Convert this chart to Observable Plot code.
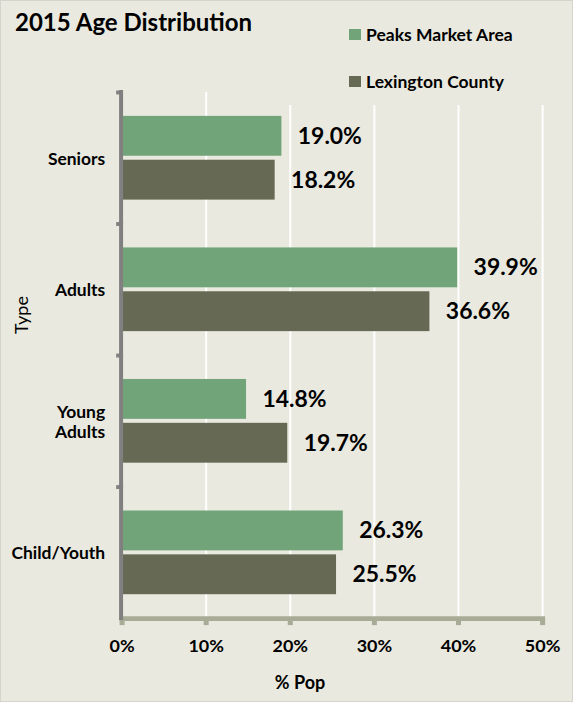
<!DOCTYPE html>
<html>
<head>
<meta charset="utf-8">
<script src="https://cdn.jsdelivr.net/npm/d3@7"></script>
<script src="https://cdn.jsdelivr.net/npm/@observablehq/plot@0.6"></script>
<style>
  html, body { margin: 0; padding: 0; background: #e9e9df; }
  #wrap { position: relative; width: 573px; height: 702px; background: #e9e9df; box-sizing: border-box; border: 1px solid #d4d4cc; overflow: hidden; font-family: Lato, "Open Sans", sans-serif; }
  #title { position: absolute; left: 14px; top: 6px; font-size: 24px; font-weight: bold; color: #000; white-space: nowrap; }
  #legend { position: absolute; left: 262px; top: 18px; width: 300px; height: 86px; background: #e9e9df; z-index: 2; }
  .item { position: absolute; left: 86px; display: flex; align-items: center; font-size: 17.5px; font-weight: bold; white-space: nowrap; }
  .sw { width: 12px; height: 11px; margin-right: 5px; display: inline-block; }
  #chart { position: absolute; left: 0; top: 84px; }
  #ylabel { position: absolute; left: 20px; top: 314px; transform: translate(-50%, -50%) rotate(-90deg); font-size: 18px; white-space: nowrap; }
  #xlabel { position: absolute; left: 299px; top: 681px; transform: translate(-50%, -50%); font-size: 18px; font-weight: bold; white-space: nowrap; }
</style>
</head>
<body>
<div id="wrap">
  <div id="title">2015 Age Distribution</div>
  <div id="legend"></div>
  <div id="chart"></div>
  <div id="ylabel">Type</div>
  <div id="xlabel">% Pop</div>
</div>
<script>
const categories = ["Seniors", "Adults", "Young Adults", "Child/Youth"];
const series = ["Peaks Market Area", "Lexington County"];
const peaks = [19.0, 39.9, 14.8, 26.3];
const lexington = [18.2, 36.6, 19.7, 25.5];
const xTicks = [0, 10, 20, 30, 40, 50];
const colors = ["#71a479", "#666953"];

const data = categories.flatMap((c, i) => [
  {type: c, series: series[0], value: peaks[i]},
  {type: c, series: series[1], value: lexington[i]}
]);

// legend
const legend = document.getElementById("legend");
series.forEach((s, i) => {
  const it = document.createElement("div");
  it.className = "item";
  it.style.top = (i === 0 ? 5 : 52) + "px";
  const sw = document.createElement("span");
  sw.className = "sw";
  sw.style.background = colors[i];
  it.appendChild(sw);
  it.appendChild(document.createTextNode(s));
  legend.appendChild(it);
});

const chart = Plot.plot({
  width: 573,
  height: 588,
  marginLeft: 121,
  marginRight: 30,
  marginTop: 6,
  marginBottom: 53,
  style: {background: "transparent", fontFamily: "Lato, sans-serif", overflow: "visible", color: "#000"},
  x: {domain: [0, 50], label: null},
  y: {domain: series, axis: null, paddingInner: 4 / 44, paddingOuter: 0.545},
  fy: {domain: categories, padding: 0, label: null},
  color: {domain: series, range: colors},
  marks: [
    Plot.ruleX(xTicks.slice(1), {x: d => d, stroke: "#ffffff", strokeWidth: 2}),
    Plot.barX(data, {x: "value", y: "series", fy: "type", fill: "series"}),
    Plot.text(data, {
      x: "value", y: "series", fy: "type",
      text: d => d.value.toFixed(1) + "%",
      textAnchor: "start", dx: 16, fontSize: 23, fontWeight: "bold", fill: "#000"
    }),
    Plot.axisFy({
      anchor: "left", tickSize: 0, tickPadding: 17, fontSize: 17.5, fontWeight: "bold",
      lineHeight: 1.15, label: null,
      tickFormat: d => d === "Young Adults" ? "Young\nAdults" : d
    }),
    Plot.axisX({
      anchor: "bottom", ticks: xTicks, tickFormat: d => d + "%",
      stroke: "#a8ab96", strokeWidth: 5, tickSize: 7, tickPadding: 14,
      fontSize: 18, fontWeight: "bold", fill: "#000", label: null
    }),
    Plot.frame({anchor: "bottom", facet: "super", stroke: "#a8ab96", strokeWidth: 5}),
    Plot.ruleX([0], {x: d => d, stroke: "#808080", strokeWidth: 4, dx: -1, insetTop: -2, insetBottom: -2}),
    Plot.dot([0], {x: d => d, frameAnchor: "top", symbol: "square", r: 2.2, dx: -4, fill: "#808080", stroke: null})
  ]
});
document.getElementById("chart").appendChild(chart);
</script>
</body>
</html>
